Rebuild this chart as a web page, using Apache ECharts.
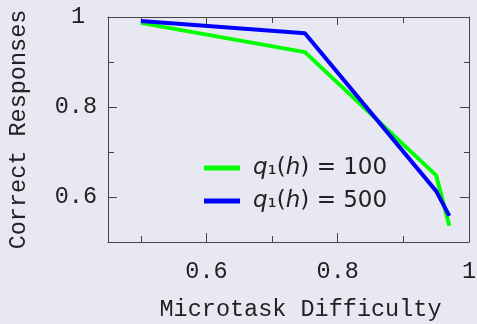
<!DOCTYPE html>
<html>
<head>
<meta charset="utf-8">
<script src="https://cdn.jsdelivr.net/npm/echarts@6/dist/echarts.min.js"></script>
<style>
html,body{margin:0;padding:0;background:#e8e8f3;}
#c{width:477px;height:324px;}
</style>
</head>
<body>
<div id="c"></div>
<script>
// Data
const difficulty = [0.5, 0.75, 0.95, 0.97];
const q100 = [0.987, 0.922, 0.648, 0.536];
const q500 = [0.991, 0.964, 0.613, 0.558];
const seriesNames = ['q1(h) = 100', 'q1(h) = 500'];
const legendValues = ['100', '500'];
const xMajorTicks = [0.6, 0.8, 1];
const xMinorTicks = [0.5, 0.7, 0.9];
const yMajorTicks = [0.6, 0.8, 1];
const yMinorTicks = [0.7, 0.9];
const xTitle = 'Microtask Difficulty';
const yTitle = 'Correct Responses';

const mono = 'Liberation Mono';
const axisColor = '#444';
const hidden = {
  type: 'value', splitLine: {show: false}, axisLine: {show: false, onZero: false},
  axisLabel: {show: false}, axisTick: {show: false}
};
function fmt(v) { return v === 1 ? '1' : v.toFixed(1); }

const chart = echarts.init(document.getElementById('c'));
chart.setOption({
  backgroundColor: '#e8e8f3',
  animation: false,
  grid: {left: 108, top: 17, right: 8, bottom: 82, outerBoundsMode: 'none', containLabel: false},
  xAxis: [
    Object.assign({}, hidden, {
      min: 0.45, max: 1, position: 'bottom',
      axisLine: {show: true, onZero: false, lineStyle: {color: axisColor, width: 1}},
      axisTick: {show: true, inside: true, length: 9, customValues: xMajorTicks, lineStyle: {color: axisColor}},
      axisLabel: {show: true, customValues: xMajorTicks, formatter: fmt, margin: 18,
        fontFamily: mono, fontSize: 23.5, color: '#222'},
      name: xTitle, nameLocation: 'middle', nameGap: 56,
      nameTextStyle: {fontFamily: mono, fontSize: 23.5, color: '#222', padding: [0, 0, 0, 24]}
    }),
    Object.assign({}, hidden, {
      min: 0.45, max: 1, position: 'bottom',
      axisTick: {show: true, inside: true, length: 6, customValues: xMinorTicks, lineStyle: {color: axisColor}}
    }),
    Object.assign({}, hidden, {
      min: 0.45, max: 1, position: 'top',
      axisLine: {show: true, onZero: false, lineStyle: {color: axisColor, width: 1}},
      axisTick: {show: true, inside: true, length: 8, customValues: [0.6, 0.8], lineStyle: {color: axisColor}}
    }),
    Object.assign({}, hidden, {
      min: 0.45, max: 1, position: 'top',
      axisTick: {show: true, inside: true, length: 6, customValues: xMinorTicks, lineStyle: {color: axisColor}}
    })
  ],
  yAxis: [
    Object.assign({}, hidden, {
      min: 0.5, max: 1, position: 'left',
      axisLine: {show: true, onZero: false, lineStyle: {color: axisColor, width: 1}},
      axisTick: {show: true, inside: true, length: 9, customValues: yMajorTicks, lineStyle: {color: axisColor}},
      axisLabel: {show: true, customValues: yMajorTicks, margin: 11,
        formatter: function (v) { return v === 1 ? '{p|1}' : v.toFixed(1); },
        fontFamily: mono, fontSize: 23.5, color: '#222',
        rich: {p: {fontFamily: mono, fontSize: 23.5, color: '#222', padding: [0, 12, 0, 0]}}},
      name: yTitle, nameLocation: 'middle', nameGap: 77,
      nameTextStyle: {fontFamily: mono, fontSize: 23.5, color: '#222'}
    }),
    Object.assign({}, hidden, {
      min: 0.5, max: 1, position: 'left',
      axisTick: {show: true, inside: true, length: 6, customValues: yMinorTicks, lineStyle: {color: axisColor}}
    }),
    Object.assign({}, hidden, {
      min: 0.5, max: 1, position: 'right',
      axisLine: {show: true, onZero: false, lineStyle: {color: axisColor, width: 1}},
      axisTick: {show: true, inside: true, length: 9, customValues: [0.6, 0.8], lineStyle: {color: axisColor}}
    }),
    Object.assign({}, hidden, {
      min: 0.5, max: 1, position: 'right',
      axisTick: {show: true, inside: true, length: 5, customValues: yMinorTicks, lineStyle: {color: axisColor}}
    })
  ],
  legend: {
    orient: 'vertical', left: 199, top: 150,
    itemWidth: 36, itemHeight: 5, itemGap: 7, icon: 'rect',
    data: seriesNames,
    formatter: function (name) {
      const v = legendValues[seriesNames.indexOf(name)];
      return '{i|q}{n|\u2081(}{i|h}{n|) = ' + v + '}';
    },
    textStyle: {
      fontFamily: 'DejaVu Sans', fontSize: 23, color: '#222', lineHeight: 26, padding: [0, 0, 0, 8],
      rich: {
        i: {fontFamily: 'DejaVu Sans', fontStyle: 'italic', fontSize: 23, color: '#222', lineHeight: 26},
        n: {fontFamily: 'DejaVu Sans', fontSize: 23, color: '#222', lineHeight: 26}
      }
    }
  },
  series: [
    {
      name: seriesNames[0], type: 'line', xAxisIndex: 0, yAxisIndex: 0,
      data: difficulty.map((x, i) => [x, q100[i]]),
      showSymbol: false, color: '#00ff00', lineStyle: {width: 4, color: '#00ff00'}, z: 2
    },
    {
      name: seriesNames[1], type: 'line', xAxisIndex: 0, yAxisIndex: 0,
      data: difficulty.map((x, i) => [x, q500[i]]),
      showSymbol: false, color: '#0000ff', lineStyle: {width: 4, color: '#0000ff'}, z: 3
    }
  ]
});
</script>
</body>
</html>
